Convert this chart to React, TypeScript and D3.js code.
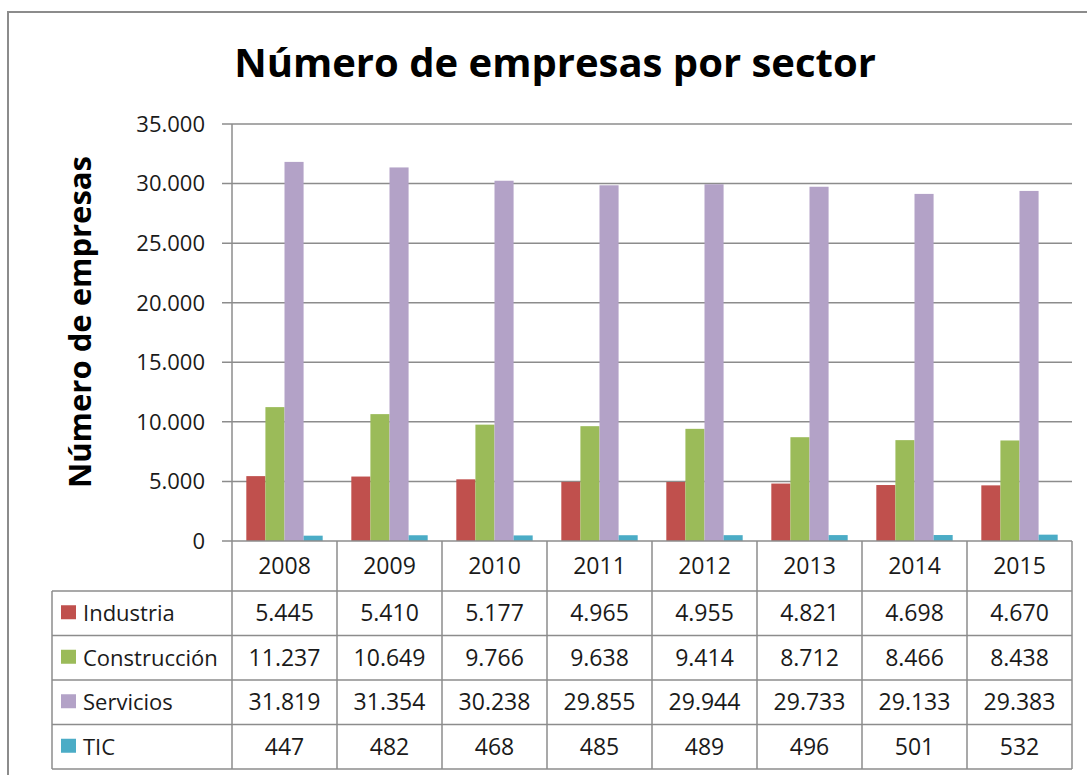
import React from 'react'
import * as d3 from 'd3'

// datos
const years = ['2008', '2009', '2010', '2011', '2012', '2013', '2014', '2015'];
const industria = [5445, 5410, 5177, 4965, 4955, 4821, 4698, 4670];
const construccion = [11237, 10649, 9766, 9638, 9414, 8712, 8466, 8438];
const servicios = [31819, 31354, 30238, 29855, 29944, 29733, 29133, 29383];
const tic = [447, 482, 468, 485, 489, 496, 501, 532];
const seriesNames = ['Industria', 'Construcción', 'Servicios', 'TIC'];
const seriesColors = ['#C0504D', '#9BBB59', '#B3A2C7', '#4BACC6'];
const yTicks = [0, 5000, 10000, 15000, 20000, 25000, 30000, 35000];

const series = [industria, construccion, servicios, tic];

const width = 1087;
const height = 775;
const plotLeft = 232;
const plotRight = 1072;
const plotTop = 124;
const zeroY = 541;
const tableTop = 591;
const tableBottom = 769;
const tableLeft = 52;
const lineColor = '#8c8c8c';
const font = '"Open Sans", "DejaVu Sans", sans-serif';

const es = d3.formatLocale({ decimal: ',', thousands: '.', grouping: [3], currency: ['', ''] });
const fmt = es.format(',');

const x = d3.scaleBand().domain(years).range([plotLeft, plotRight]).padding(0);
const xInner = d3.scaleBand().domain(seriesNames).range([0, x.bandwidth()]).paddingInner(0).paddingOuter(0.75);
const y = d3.scaleLinear().domain([0, 35000]).range([zeroY, plotTop]);
const rowY = d3.scaleBand().domain(seriesNames).range([tableTop, tableBottom]);

function App() {
    return (
        <svg width={width} height={height} style={{ position: 'absolute', left: 0, top: 0, background: '#fff' }}>
            <rect x={8} y={12} width={width + 10} height={height + 10} fill="#fff" stroke={lineColor} strokeWidth={2} />

            <text x={555} y={77} textAnchor="middle" fontFamily={font} fontWeight="bold" fontSize={40} fill="#000">
                Número de empresas por sector
            </text>

            <text transform={`translate(91,${322}) rotate(-90)`} textAnchor="middle"
                fontFamily={font} fontWeight="bold" fontSize={31} fill="#000">
                Número de empresas
            </text>

            {/* cuadrícula y ticks */}
            {yTicks.map(t => (
                <g key={t}>
                    {t > 0 && <line x1={plotLeft - 10} x2={plotRight} y1={y(t)} y2={y(t)} stroke={lineColor} strokeWidth={1.5} />}
                    <text x={205} y={y(t)} dy="0.357em" textAnchor="end" fontFamily={font} fontSize={22} fill="#1a1a1a">
                        {fmt(t)}
                    </text>
                </g>
            ))}

            {/* barras */}
            {years.map((yr, i) => (
                <g key={yr} transform={`translate(${x(yr)},0)`}>
                    {series.map((s, j) => (
                        <rect key={seriesNames[j]} x={xInner(seriesNames[j])} width={xInner.bandwidth()}
                            y={y(s[i])} height={y(0) - y(s[i])} fill={seriesColors[j]} />
                    ))}
                </g>
            ))}

            {/* tabla */}
            <line x1={plotLeft - 10} x2={plotRight} y1={zeroY} y2={zeroY} stroke={lineColor} strokeWidth={1.5} />
            <line x1={plotLeft} x2={plotLeft} y1={plotTop} y2={tableBottom} stroke={lineColor} strokeWidth={1.5} />
            {years.map(yr => (
                <line key={yr} x1={x(yr) + x.bandwidth()} x2={x(yr) + x.bandwidth()} y1={zeroY} y2={tableBottom}
                    stroke={lineColor} strokeWidth={1.5} />
            ))}
            <line x1={tableLeft} x2={tableLeft} y1={tableTop} y2={tableBottom} stroke={lineColor} strokeWidth={1.5} />
            {seriesNames.map(n => (
                <line key={n} x1={tableLeft} x2={plotRight} y1={rowY(n)} y2={rowY(n)} stroke={lineColor} strokeWidth={1.5} />
            ))}
            <line x1={tableLeft} x2={plotRight} y1={tableBottom} y2={tableBottom} stroke={lineColor} strokeWidth={1.5} />

            {years.map(yr => (
                <text key={yr} x={x(yr) + x.bandwidth() / 2} y={(zeroY + tableTop) / 2} dy="0.357em" textAnchor="middle"
                    fontFamily={font} fontSize={23} fill="#1a1a1a">{yr}</text>
            ))}

            {seriesNames.map((n, j) => {
                const cy = rowY(n) + rowY.bandwidth() / 2;
                return (
                    <g key={n}>
                        <rect x={61} y={cy - 8} width={15} height={14} fill={seriesColors[j]} />
                        <text x={83} y={cy} dy="0.357em" fontFamily={font} fontSize={22} fill="#1a1a1a">{n}</text>
                        {years.map((yr, i) => (
                            <text key={yr} x={x(yr) + x.bandwidth() / 2} y={cy} dy="0.357em" textAnchor="middle"
                                fontFamily={font} fontSize={23} fill="#1a1a1a">{fmt(series[j][i])}</text>
                        ))}
                    </g>
                );
            })}
        </svg>
    )
}

export default App
